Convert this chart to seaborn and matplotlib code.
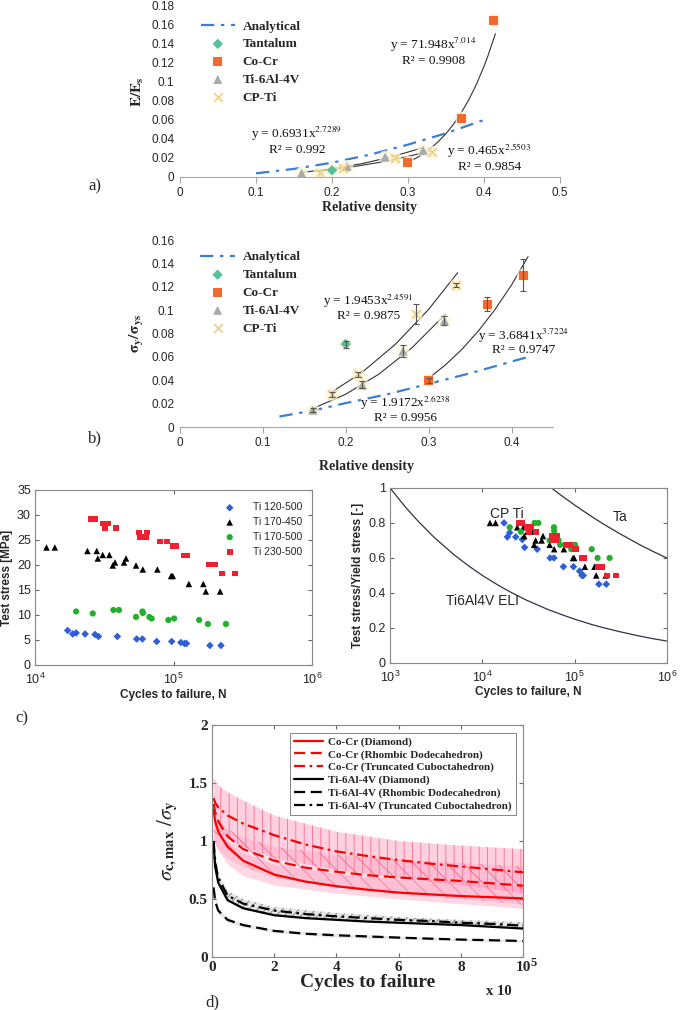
import numpy as np
import pandas as pd
import matplotlib.pyplot as plt
import seaborn as sns
from matplotlib.lines import Line2D
from matplotlib.ticker import FuncFormatter

sns.set_style('white')
SERIF = ['Liberation Serif', 'DejaVu Serif']
SANS = ['Liberation Sans', 'DejaVu Sans']
plt.rcParams['font.family'] = SANS
plt.rcParams['mathtext.fontset'] = 'stix'
plt.rcParams['hatch.linewidth'] = 0.6

# ---------------- a) stiffness vs relative density
a_ta_x = [0.20]
a_ta_y = [0.007]
a_cocr_x = [0.30, 0.37, 0.413]
a_cocr_y = [0.0155, 0.062, 0.165]
a_ti64_x = [0.16, 0.22, 0.27, 0.32]
a_ti64_y = [0.004, 0.011, 0.021, 0.028]
a_cpti_x = [0.184, 0.215, 0.283, 0.331]
a_cpti_y = [0.004, 0.009, 0.020, 0.026]
a_ana_x = [0.10, 0.15, 0.20, 0.25, 0.30, 0.35, 0.40]
a_ana_y = [0.0038, 0.0085, 0.015, 0.0235, 0.034, 0.046, 0.060]
# trend lines
a_fit_cocr_x = [0.30, 0.31, 0.32, 0.33, 0.34, 0.35, 0.36, 0.37, 0.38, 0.39, 0.40, 0.405, 0.415]
a_fit_cocr_y = [0.0155, 0.0195, 0.0244, 0.0302, 0.0373, 0.0456, 0.0556, 0.0674, 0.0812, 0.0974, 0.1164, 0.127, 0.1507]
a_fit_ti64_x = [0.16, 0.20, 0.24, 0.28, 0.32]
a_fit_ti64_y = [0.0047, 0.0086, 0.0141, 0.0215, 0.0309]
a_fit_cpti_x = [0.18, 0.22, 0.26, 0.30, 0.33]
a_fit_cpti_y = [0.0059, 0.0098, 0.0150, 0.0216, 0.0275]

# ---------------- b) strength vs relative density
b_ta_x = [0.20]
b_ta_y = [0.071]
b_ta_e = [0.003]
b_cocr_x = [0.30, 0.371, 0.414]
b_cocr_y = [0.040, 0.105, 0.130]
b_cocr_e = [0.002, 0.006, 0.014]
b_ti64_x = [0.16, 0.22, 0.269, 0.319]
b_ti64_y = [0.0145, 0.036, 0.065, 0.091]
b_ti64_e = [0.002, 0.003, 0.005, 0.004]
b_cpti_x = [0.183, 0.215, 0.285, 0.333]
b_cpti_y = [0.028, 0.045, 0.0964, 0.1215]
b_cpti_e = [0.002, 0.002, 0.0085, 0.002]
b_ana_x = [0.12, 0.16, 0.20, 0.25, 0.30, 0.35, 0.42]
b_ana_y = [0.009, 0.014, 0.0205, 0.028, 0.037, 0.046, 0.060]
b_fit_cpti_x = [0.183, 0.22, 0.26, 0.30, 0.335]
b_fit_cpti_y = [0.0299, 0.047, 0.0709, 0.1007, 0.1321]
b_fit_ti64_x = [0.16, 0.20, 0.24, 0.28, 0.32]
b_fit_ti64_y = [0.0157, 0.0281, 0.0453, 0.0679, 0.0964]
b_fit_cocr_x = [0.30, 0.32, 0.34, 0.36, 0.38, 0.40, 0.42]
b_fit_cocr_y = [0.0417, 0.0530, 0.0664, 0.0822, 0.1005, 0.1216, 0.1459]

# ---------------- c) fatigue data
c_b_n = [1.72e4, 1.87e4, 1.98e4, 2.3e4, 2.71e4, 2.87e4, 3.93e4, 5.42e4, 5.96e4, 7.56e4, 9.7e4, 1.13e5, 1.2e5, 1.24e5, 1.83e5, 2.2e5]
c_b_s = [6.9, 6.2, 6.4, 6.2, 6.1, 5.7, 5.7, 5.2, 5.2, 4.7, 4.7, 4.5, 4.3, 4.3, 3.9, 3.9]
c_k_n = [1.21e4, 1.39e4, 2.39e4, 2.79e4, 2.84e4, 3.08e4, 3.44e4, 3.64e4, 3.78e4, 4.39e4, 4.54e4, 5.36e4, 6.0e4, 7.64e4, 9.6e4, 9.87e4, 1.29e5, 1.64e5, 1.71e5, 2.17e5]
c_k_s = [23.5, 23.5, 22.8, 22.8, 21.3, 22.0, 22.0, 19.9, 20.5, 20.5, 21.3, 19.9, 19.1, 19.1, 17.8, 17.8, 16.2, 16.2, 14.7, 14.7]
c_g_n = [1.98e4, 2.61e4, 3.68e4, 4.04e4, 5.36e4, 5.96e4, 6.0e4, 6.69e4, 6.95e4, 9.18e4, 1.01e5, 1.53e5, 1.77e5, 2.39e5]
c_g_s = [10.7, 10.3, 11.0, 11.0, 9.6, 10.7, 10.4, 9.6, 9.3, 9.0, 9.3, 9.0, 8.2, 8.2]
c_r_n = [2.52e4, 2.71e4, 3.08e4, 3.2e4, 3.35e4, 3.85e4, 5.64e4, 5.73e4, 6.33e4, 6.39e4, 8.0e4, 8.93e4, 9.97e4, 1.04e5, 1.19e5, 1.26e5, 1.79e5, 2.0e5, 2.23e5, 2.78e5]
c_r_s = [29.2, 29.2, 28.3, 27.4, 28.3, 27.4, 26.5, 25.6, 25.6, 26.5, 24.7, 24.7, 23.8, 23.8, 21.9, 21.9, 20.1, 20.1, 18.3, 18.3]
c_labels = ['Ti 120-500', 'Ti 170-450', 'Ti 170-500', 'Ti 230-500']

c2_b_r = [0.80, 0.72, 0.745, 0.72, 0.705, 0.66, 0.65, 0.60, 0.60, 0.55, 0.55, 0.525, 0.50, 0.50, 0.45, 0.45]
c2_k_r = [0.80, 0.80, 0.775, 0.775, 0.725, 0.75, 0.75, 0.675, 0.70, 0.70, 0.725, 0.675, 0.65, 0.65, 0.60, 0.60, 0.55, 0.55, 0.50, 0.50]
c2_g_r = [0.775, 0.75, 0.80, 0.80, 0.70, 0.775, 0.755, 0.70, 0.675, 0.65, 0.675, 0.65, 0.60, 0.60]
c2_r_r = [0.80, 0.80, 0.775, 0.75, 0.775, 0.75, 0.725, 0.70, 0.70, 0.725, 0.675, 0.675, 0.65, 0.65, 0.60, 0.60, 0.55, 0.55, 0.50, 0.50]
c2_ti_n = [1e3, 1.5e3, 2e3, 3e3, 5e3, 7e3, 1e4, 1.5e4, 2e4, 3e4, 5e4, 7e4, 1e5, 1.5e5, 2e5, 3e5, 5e5, 7e5, 1e6]
c2_ti_r = [1.0, 0.885, 0.812, 0.718, 0.616, 0.557, 0.50, 0.443, 0.406, 0.359, 0.308, 0.279, 0.25, 0.221, 0.203, 0.18, 0.154, 0.139, 0.125]
c2_ta_n = [5.6e4, 7e4, 1e5, 1.5e5, 2e5, 3e5, 5e5, 7e5, 1e6]
c2_ta_r = [1.0, 0.961, 0.902, 0.839, 0.797, 0.742, 0.677, 0.638, 0.599]

# ---------------- d) normalised fatigue strength curves
d_x = [0.05, 0.1, 0.2, 0.5, 1, 2, 3, 4, 5, 6, 7, 8, 9, 10]
d_cocr_di = [1.27, 1.17, 1.08, 0.95, 0.83, 0.71, 0.65, 0.61, 0.58, 0.555, 0.54, 0.525, 0.515, 0.505]
d_cocr_rd = [1.32, 1.25, 1.17, 1.04, 0.93, 0.83, 0.77, 0.735, 0.705, 0.685, 0.67, 0.655, 0.635, 0.615]
d_cocr_tc = [1.37, 1.33, 1.29, 1.22, 1.15, 1.05, 0.97, 0.91, 0.87, 0.835, 0.805, 0.78, 0.755, 0.73]
d_ti_di = [0.98, 0.78, 0.64, 0.49, 0.42, 0.36, 0.335, 0.32, 0.305, 0.295, 0.285, 0.275, 0.26, 0.245]
d_ti_rd = [0.60, 0.48, 0.40, 0.32, 0.275, 0.225, 0.20, 0.187, 0.177, 0.167, 0.158, 0.15, 0.144, 0.138]
d_ti_tc = [1.0, 0.82, 0.68, 0.53, 0.46, 0.40, 0.37, 0.35, 0.335, 0.32, 0.31, 0.295, 0.285, 0.27]
d_band_x = [0.05, 0.2, 0.5, 1, 2, 4, 6, 8, 10]
d_tc_hi = [1.55, 1.48, 1.42, 1.35, 1.22, 1.08, 1.0, 0.96, 0.93]
d_tc_lo = [1.2, 1.1, 1.02, 0.95, 0.85, 0.75, 0.68, 0.62, 0.55]
d_rd_hi = [1.25, 1.18, 1.1, 1.03, 0.95, 0.88, 0.84, 0.81, 0.78]
d_rd_lo = [1.0, 0.93, 0.85, 0.78, 0.68, 0.6, 0.54, 0.5, 0.45]
d_di_hi = [1.3, 1.15, 1.0, 0.9, 0.8, 0.72, 0.67, 0.64, 0.61]
d_di_lo = [1.0, 0.92, 0.8, 0.7, 0.62, 0.55, 0.5, 0.46, 0.42]
d_ti_hi = [1.02, 0.72, 0.57, 0.5, 0.43, 0.38, 0.345, 0.32, 0.30]
d_ti_lo = [0.9, 0.62, 0.48, 0.41, 0.35, 0.315, 0.29, 0.27, 0.25]
d_tir_hi = [0.62, 0.42, 0.34, 0.29, 0.24, 0.2, 0.18, 0.16, 0.15]
d_tir_lo = [0.55, 0.37, 0.30, 0.26, 0.21, 0.17, 0.155, 0.14, 0.128]
d_labels = ['Co-Cr (Diamond)', 'Co-Cr (Rhombic Dodecahedron)', 'Co-Cr (Truncated Cuboctahedron)',
            'Ti-6Al-4V (Diamond)', 'Ti-6Al-4V (Rhombic Dodecahedron)', 'Ti-6Al-4V (Truncated Cuboctahedron)']

C_TA = '#55c09b'
C_COCR = '#f46a2e'
C_TI = '#a3abab'
C_CP = '#f2cf86'
C_ANA = '#3b7fd4'
GLOW = '#fdf5d6'

fig = plt.figure(figsize=(6.8, 10.1), dpi=100)
axa = fig.add_axes([0.2647, 0.8248, 0.5588, 0.1693])
axb = fig.add_axes([0.2647, 0.5772, 0.5485, 0.1851])
axc1 = fig.add_axes([0.0515, 0.3416, 0.4074, 0.1733])
axc2 = fig.add_axes([0.5735, 0.3436, 0.4074, 0.1733])
axd = fig.add_axes([0.3118, 0.0525, 0.4574, 0.2297])

gfmt = FuncFormatter(lambda v, p: f'{v:g}')


def excel_style(ax):
    for s in ['top', 'right', 'left']:
        ax.spines[s].set_visible(False)
    ax.spines['bottom'].set_color('#a6a6a6')
    ax.tick_params(axis='x', direction='out', length=4, color='#a6a6a6', labelsize=8.5, pad=3, bottom=True)
    ax.tick_params(axis='y', length=0, labelsize=8.5, pad=4)
    ax.xaxis.set_major_formatter(gfmt)
    ax.yaxis.set_major_formatter(gfmt)
    ax.grid(False)


def density_panel(ax, pts, ana, fits, legend_anchor):
    sns.lineplot(x=ana[0], y=ana[1], ax=ax, color=C_ANA, lw=1.6, linestyle=(0, (6, 3, 1.5, 3)),
                 label='Analytical', sort=False, estimator=None)
    for fx, fy in fits:
        sns.lineplot(x=fx, y=fy, ax=ax, color='#333333', lw=0.8, sort=False, estimator=None)
    styles = [('Tantalum', 'D', C_TA, 28), ('Co-Cr', 's', C_COCR, 42),
              ('Ti-6Al-4V', '^', C_TI, 42), ('CP-Ti', 'x', C_CP, 40)]
    for (name, mk, col, sz), (px, py) in zip(styles, pts):
        sns.scatterplot(x=px, y=py, ax=ax, color=GLOW, s=85, edgecolor='none', alpha=0.75, zorder=2)
        if mk == 'x':
            sns.scatterplot(x=px, y=py, ax=ax, marker=mk, color=col, s=sz, linewidth=1.3, label=name, zorder=3)
        else:
            sns.scatterplot(x=px, y=py, ax=ax, marker=mk, color=col, s=sz, edgecolor='none', label=name, zorder=3)
    h, l = ax.get_legend_handles_labels()
    ax.legend(h, l, loc='upper left', bbox_to_anchor=legend_anchor, frameon=False,
              prop={'family': SERIF, 'weight': 'bold', 'size': 9.5}, handlelength=2.6,
              labelspacing=0.42, handletextpad=0.6, borderpad=0.2)


# ---- panel a
density_panel(axa, [(a_ta_x, a_ta_y), (a_cocr_x, a_cocr_y), (a_ti64_x, a_ti64_y), (a_cpti_x, a_cpti_y)],
              (a_ana_x, a_ana_y),
              [(a_fit_cocr_x, a_fit_cocr_y), (a_fit_ti64_x, a_fit_ti64_y), (a_fit_cpti_x, a_fit_cpti_y)],
              (0.03, 0.97))
axa.set_xlim(0, 0.5)
axa.set_ylim(0, 0.18)
axa.set_xticks(np.arange(0, 0.51, 0.1))
axa.set_yticks(np.arange(0, 0.181, 0.02))
excel_style(axa)
axa.set_xlabel('Relative density', family=SERIF, weight='bold', size=10, labelpad=2)
axa.set_ylabel(r'$\mathbf{E/E_s}$', size=11, labelpad=4)
eq = dict(family=SERIF, size=9.5, ha='center', va='center', color='#111111')
axa.text(0.333, 0.139, 'y = 71.948x$^{7.014}$', **eq)
axa.text(0.333, 0.122, 'R² = 0.9908', **eq)
axa.text(0.154, 0.045, 'y = 0.6931x$^{2.7289}$', **eq)
axa.text(0.154, 0.028, 'R² = 0.992', **eq)
axa.text(0.407, 0.0275, 'y = 0.465x$^{2.5503}$', **eq)
axa.text(0.407, 0.011, 'R² = 0.9854', **eq)

# ---- panel b
density_panel(axb, [(b_ta_x, b_ta_y), (b_cocr_x, b_cocr_y), (b_ti64_x, b_ti64_y), (b_cpti_x, b_cpti_y)],
              (b_ana_x, b_ana_y),
              [(b_fit_cocr_x, b_fit_cocr_y), (b_fit_ti64_x, b_fit_ti64_y), (b_fit_cpti_x, b_fit_cpti_y)],
              (0.03, 0.99))
for ex, ey, ee in [(b_ta_x, b_ta_y, b_ta_e), (b_cocr_x, b_cocr_y, b_cocr_e),
                   (b_ti64_x, b_ti64_y, b_ti64_e), (b_cpti_x, b_cpti_y, b_cpti_e)]:
    axb.errorbar(ex, ey, yerr=ee, fmt='none', ecolor='#555555', elinewidth=0.8, capsize=2.5, capthick=0.8, zorder=4)
axb.set_xlim(0, 0.45)
axb.set_ylim(0, 0.16)
axb.set_xticks(np.arange(0, 0.41, 0.1))
axb.set_yticks(np.arange(0, 0.161, 0.02))
excel_style(axb)
axb.set_xlabel('Relative density', family=SERIF, weight='bold', size=10, labelpad=8)
axb.set_ylabel(r'$\mathbf{\sigma_y/\sigma_{ys}}$', size=11, labelpad=4)
axb.text(0.227, 0.108, 'y = 1.9453x$^{2.4591}$', **eq)
axb.text(0.227, 0.095, 'R² = 0.9875', **eq)
axb.text(0.415, 0.078, 'y = 3.6841x$^{3.7224}$', **eq)
axb.text(0.415, 0.066, 'R² = 0.9747', **eq)
axb.text(0.272, 0.021, 'y = 1.9172x$^{2.6238}$', **eq)
axb.text(0.272, 0.008, 'R² = 0.9956', **eq)


def matlab_style(ax, size=8.5):
    for s in ax.spines.values():
        s.set_color('#888888')
        s.set_linewidth(0.8)
    ax.tick_params(direction='in', length=3, labelsize=size, top=True, right=True, bottom=True, left=True,
                   color='#666666', pad=3)
    ax.tick_params(axis='x', pad=5)
    ax.tick_params(which='minor', length=0)
    ax.grid(False)


# ---- panel c left
cstyle = [('D', '#2e5fd8', 15), ('^', 'black', 22), ('o', '#22b02a', 20), ('s', '#f0202e', 18)]
for (mk, col, sz), n, s, lab in zip(cstyle, [c_b_n, c_k_n, c_g_n, c_r_n], [c_b_s, c_k_s, c_g_s, c_r_s], c_labels):
    sns.scatterplot(x=n, y=s, ax=axc1, marker=mk, color=col, s=sz, edgecolor='none', label=lab)
axc1.set_xscale('log')
axc1.set_xlim(1e4, 1e6)
axc1.set_ylim(0, 35)
axc1.set_yticks(range(0, 36, 5))
matlab_style(axc1, 9)
axc1.legend(loc='upper right', bbox_to_anchor=(0.99, 0.97), frameon=False, fontsize=7.5,
            handletextpad=1.2, labelspacing=0.45, borderpad=0.2)
axc1.set_xlabel('Cycles to failure, N', weight='bold', size=8.5, labelpad=1)
axc1.set_ylabel('Test stress [MPa]', weight='bold', size=8.5, labelpad=3)

# ---- panel c right
sns.lineplot(x=c2_ti_n, y=c2_ti_r, ax=axc2, color='#333344', lw=0.9, sort=False, estimator=None)
sns.lineplot(x=c2_ta_n, y=c2_ta_r, ax=axc2, color='#333333', lw=0.9, sort=False, estimator=None)
for (mk, col, sz), n, r in zip(cstyle, [c_b_n, c_k_n, c_g_n, c_r_n], [c2_b_r, c2_k_r, c2_g_r, c2_r_r]):
    sns.scatterplot(x=n, y=r, ax=axc2, marker=mk, color=col, s=sz, edgecolor='none')
axc2.set_xscale('log')
axc2.set_xlim(1e3, 1e6)
axc2.set_ylim(0, 1)
axc2.set_yticks(np.arange(0, 1.01, 0.2))
axc2.yaxis.set_major_formatter(gfmt)
matlab_style(axc2, 9)
axc2.set_xlabel('Cycles to failure, N', weight='bold', size=8.5, labelpad=1)
axc2.set_ylabel('Test stress/Yield stress [-]', weight='bold', size=8.5, labelpad=3)
axc2.text(1.2e4, 0.83, 'CP Ti', size=10)
axc2.text(2.6e5, 0.81, 'Ta', size=10)
axc2.text(4.0e3, 0.33, 'Ti6Al4V ELI', size=10)

# ---- panel d
axd.fill_between(d_band_x, d_tc_lo, d_tc_hi, facecolor=(1, 0.55, 0.7, 0.4), edgecolor=(0.95, 0.3, 0.45, 0.75),
                 hatch='||', linewidth=0)
axd.fill_between(d_band_x, d_rd_lo, d_rd_hi, facecolor=(1, 0.55, 0.7, 0.3), edgecolor=(0.95, 0.3, 0.45, 0.75),
                 hatch='\\\\', linewidth=0)
axd.fill_between(d_band_x, d_di_lo, d_di_hi, facecolor=(1, 0.55, 0.7, 0.35), linewidth=0)
axd.fill_between(d_band_x, d_ti_lo, d_ti_hi, facecolor=(0.6, 0.6, 0.6, 0.25), edgecolor=(0.2, 0.2, 0.2, 0.6),
                 hatch='////', linewidth=0)
axd.fill_between(d_band_x, d_tir_lo, d_tir_hi, facecolor=(0.7, 0.7, 0.7, 0.3), linewidth=0)
d_series = [(d_cocr_di, 'red', '-'), (d_cocr_rd, 'red', (0, (5, 2.5))), (d_cocr_tc, 'red', (0, (5, 2, 1.2, 2))),
            (d_ti_di, 'black', '-'), (d_ti_rd, 'black', (0, (5, 2.5))), (d_ti_tc, 'black', (0, (5, 2, 1.2, 2)))]
for (yv, col, ls), lab in zip(d_series, d_labels):
    sns.lineplot(x=d_x, y=yv, ax=axd, color=col, linestyle=ls, lw=1.6, sort=False, estimator=None)
axd.set_xlim(0, 10)
axd.set_ylim(0, 2)
axd.set_xticks(range(0, 11, 2))
axd.set_yticks([0, 0.5, 1, 1.5, 2])
axd.yaxis.set_major_formatter(gfmt)
matlab_style(axd, 11)
axd.tick_params(axis='x', pad=3)
for lab in axd.get_xticklabels() + axd.get_yticklabels():
    lab.set_family(SERIF)
    lab.set_weight('bold')
handles = [Line2D([], [], color=col, linestyle=ls, lw=1.6) for _, col, ls in d_series]
leg = axd.legend(handles, d_labels, loc='upper right', bbox_to_anchor=(0.995, 0.99), frameon=True, fancybox=False,
                 prop={'family': SERIF, 'weight': 'bold', 'size': 8}, handlelength=2.6, labelspacing=0.25,
                 borderpad=0.35, handletextpad=0.5)
leg.get_frame().set_edgecolor('#666666')
leg.get_frame().set_linewidth(0.7)
axd.set_xlabel('Cycles to failure', family=SERIF, weight='bold', size=14, labelpad=0)
axd.set_ylabel(r'$\sigma_{\mathbf{c,max}}\ /\sigma_{\mathbf{y}}$', size=15, labelpad=6)
axd.text(0.88, -0.165, 'x 10', transform=axd.transAxes, family=SERIF, weight='bold', size=10.5)
axd.text(1.025, -0.04, '5', transform=axd.transAxes, family=SERIF, weight='bold', size=9)

# panel letters
fig.text(88 / 680, 1 - 190 / 1010, 'a)', family=SERIF, size=12)
fig.text(88 / 680, 1 - 442 / 1010, 'b)', family=SERIF, size=12)
fig.text(15 / 680, 1 - 722 / 1010, 'c)', family=SERIF, size=12)
fig.text(205 / 680, 1 - 1006 / 1010, 'd)', family=SERIF, size=12)

fig.savefig('out.png', dpi=100)
